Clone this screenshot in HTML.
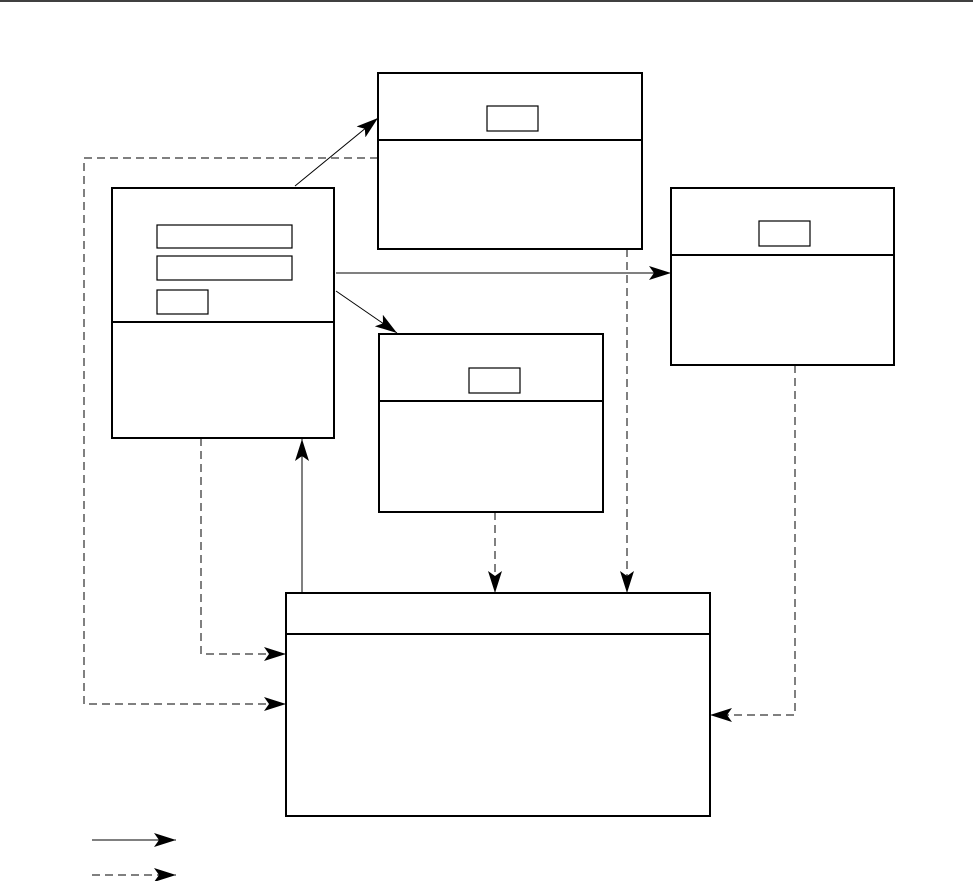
<!DOCTYPE html>
<html><head><meta charset="utf-8"><style>html,body{margin:0;padding:0;background:#fff}svg{display:block}</style></head>
<body>
<svg width="973" height="881" viewBox="0 0 973 881" xmlns="http://www.w3.org/2000/svg">
<defs>
<marker id="ah" markerWidth="24" markerHeight="14" refX="22" refY="7" orient="auto" markerUnits="userSpaceOnUse">
<path d="M0,0 L22,7 L0,14 L5,7 Z" fill="#000"/>
</marker>
</defs>
<line x1="0" y1="1" x2="973" y2="1" stroke="#000" stroke-width="1.5"/>
<g fill="none" stroke="#000" stroke-width="2">
<rect x="378" y="73" width="264" height="176"/><line x1="378" y1="140" x2="642" y2="140"/>
<rect x="112" y="188" width="222" height="250"/><line x1="112" y1="322" x2="334" y2="322"/>
<rect x="671" y="188" width="223" height="177"/><line x1="671" y1="255" x2="894" y2="255"/>
<rect x="379" y="334" width="224" height="178"/><line x1="379" y1="401" x2="603" y2="401"/>
<rect x="286" y="593" width="424" height="223"/><line x1="286" y1="634" x2="710" y2="634"/>
</g>
<g fill="none" stroke="#000" stroke-width="1.2">
<rect x="487" y="106" width="51" height="25"/>
<rect x="157" y="225" width="135" height="23"/>
<rect x="157" y="256" width="135" height="24"/>
<rect x="157" y="290" width="51" height="24"/>
<rect x="759" y="221" width="51" height="25"/>
<rect x="469" y="368" width="51" height="25"/>
</g>
<g fill="none" stroke="#000" stroke-width="1" marker-end="url(#ah)">
<line x1="295" y1="186" x2="378" y2="118"/>
<line x1="336" y1="273" x2="671" y2="273"/>
<line x1="336" y1="291" x2="397" y2="333"/>
<line x1="302" y1="593" x2="302" y2="439"/>
<line x1="92" y1="840" x2="176" y2="840"/>
</g>
<g fill="none" stroke="#000" stroke-width="1" stroke-dasharray="8,5" marker-end="url(#ah)">
<polyline points="378,158 84,158 84,704 286,704"/>
<polyline points="201,438 201,654 286,654"/>
<line x1="495" y1="512" x2="495" y2="593"/>
<line x1="627" y1="249" x2="627" y2="593"/>
<polyline points="795,365 795,715 710,715"/>
<line x1="92" y1="875" x2="176" y2="875"/>
</g>
</svg>
</body></html>
